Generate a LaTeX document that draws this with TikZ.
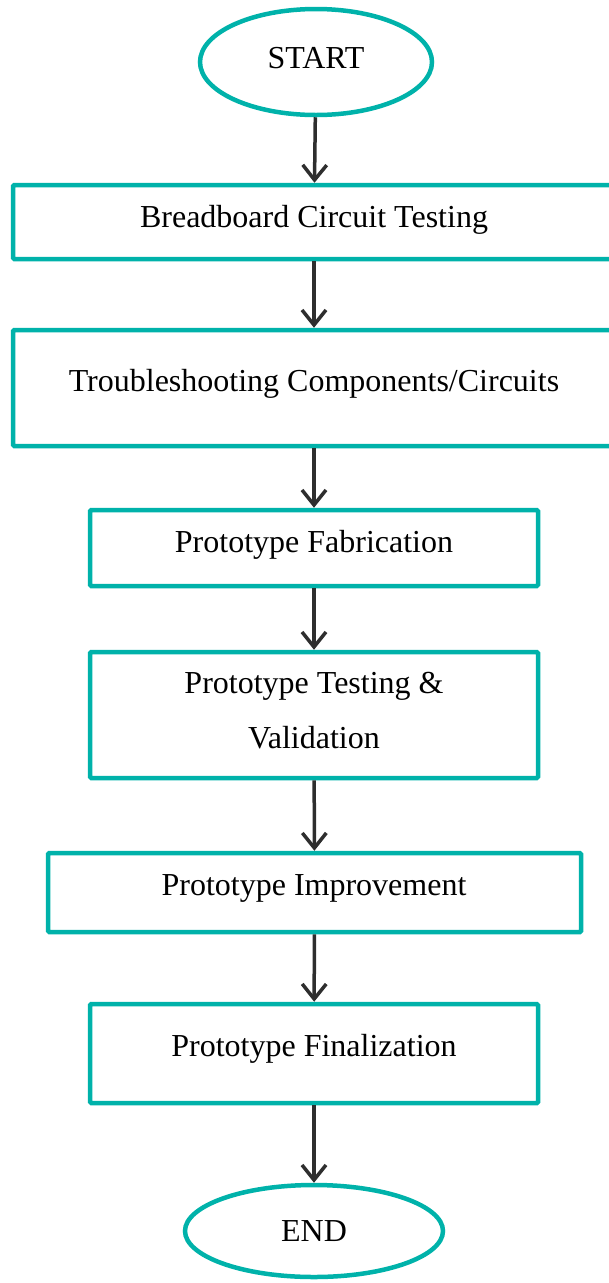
\documentclass[tikz,border=0pt]{standalone}
\usepackage{fontspec}
\setmainfont{Liberation Serif}
\usetikzlibrary{shapes.geometric,arrows.meta}
\definecolor{flowteal}{HTML}{00B2AA}
\definecolor{flowarrow}{HTML}{2E2E2E}
\begin{document}
\begin{tikzpicture}[x=1pt,y=-1pt,
  stepbox/.style={draw=flowteal,line width=4.5pt,rectangle,rounded corners=1.2pt,inner sep=0pt},
  termnode/.style={draw=flowteal,line width=4.5pt,ellipse,inner sep=0pt},
  label/.style={inner sep=0pt,anchor=base,font=\fontsize{32}{55}\selectfont,text=black},
  flow/.style={draw=flowarrow,line width=3.5pt,-{Straight Barb[length=15pt,width=24pt]}}]
\useasboundingbox (0,0) rectangle (609,1283);
\clip (0,0) rectangle (609,1283);
\node[termnode,minimum width=232pt,minimum height=106pt] (start) at (316,62) {};
\node[stepbox,minimum width=602pt,minimum height=74pt] (b1) at (314,222) {};
\node[stepbox,minimum width=602pt,minimum height=116pt] (b2) at (314,388) {};
\node[stepbox,minimum width=448pt,minimum height=76pt] (b3) at (314,548) {};
\node[stepbox,minimum width=448pt,minimum height=126pt] (b4) at (314,715) {};
\node[stepbox,minimum width=533pt,minimum height=79pt] (b5) at (314.5,892.5) {};
\node[stepbox,minimum width=448pt,minimum height=99pt] (b6) at (314,1053.5) {};
\node[termnode,minimum width=258pt,minimum height=92pt] (end) at (314,1231) {};
\node[label] (tstart) at (316,68) {START};
\node[label] (t1) at (314,227) {Breadboard Circuit Testing};
\node[label] (t2) at (314,391) {Troubleshooting Components/Circuits};
\node[label] (t3) at (314,552) {Prototype Fabrication};
\node[label] (t4a) at (314,693) {Prototype Testing \&};
\node[label] (t4b) at (314,748) {Validation};
\node[label] (t5) at (314,895) {Prototype Improvement};
\node[label] (t6) at (314,1056) {Prototype Finalization};
\node[label] (tend) at (314,1241) {END};
\draw[flow] (start) -- (b1);
\draw[flow] (b1) -- (b2);
\draw[flow] (b2) -- (b3);
\draw[flow] (b3) -- (b4);
\draw[flow] (b4) -- (b5);
\draw[flow] (b5) -- (b6);
\draw[flow] (b6) -- (end);
\end{tikzpicture}
\end{document}
